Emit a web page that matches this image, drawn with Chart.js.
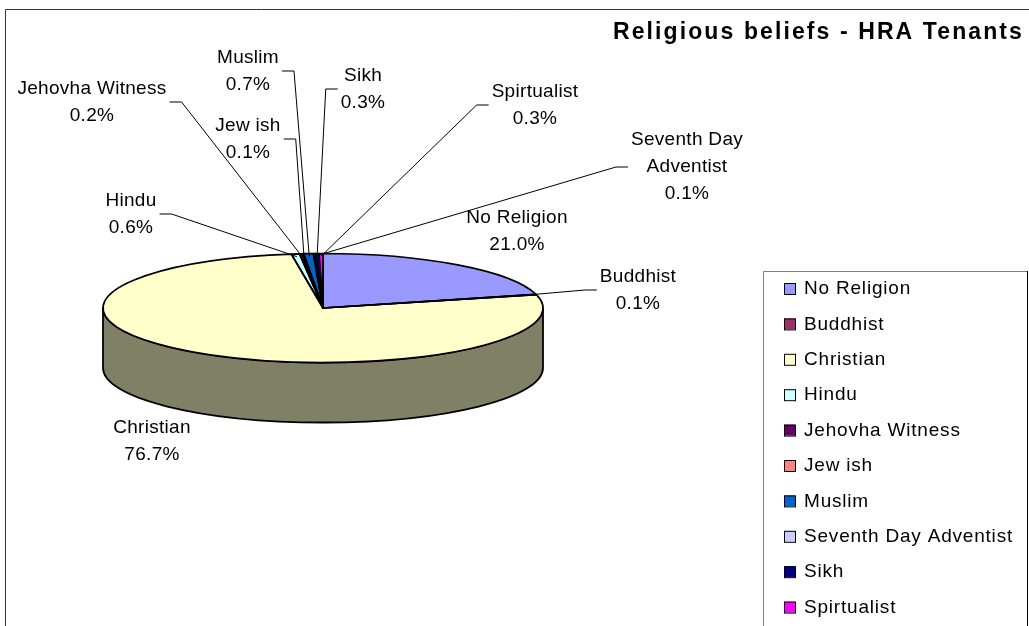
<!DOCTYPE html>
<html>
<head>
<meta charset="utf-8">
<script src="https://cdn.jsdelivr.net/npm/chart.js@4"></script>
<style>
  html, body { margin: 0; padding: 0; background: #fff; }
</style>
</head>
<body>
<canvas id="religionPie" width="1029" height="626"></canvas>
<script>
const religions = ["No Religion", "Buddhist", "Christian", "Hindu", "Jehovha Witness", "Jew ish", "Muslim", "Seventh Day Adventist", "Sikh", "Spirtualist"];
const percentages = [21.0, 0.1, 76.7, 0.6, 0.2, 0.1, 0.7, 0.1, 0.3, 0.3];
const sliceColors = ["#9999ff", "#993366", "#ffffcc", "#ccffff", "#660066", "#ff8080", "#0066cc", "#ccccff", "#000080", "#ff00ff"];

// where each data label sits (centre of the text block) and whether it gets a leader line
const labelSpots = [
  { x: 517, y: 231, leader: false },
  { x: 638, y: 290, leader: true },
  { x: 152, y: 441, leader: false },
  { x: 131, y: 214, leader: true },
  { x: 92, y: 102, leader: true },
  { x: 248, y: 139, leader: true },
  { x: 248, y: 71, leader: true },
  { x: 687, y: 167, leader: true },
  { x: 363, y: 89, leader: true },
  { x: 535, y: 105, leader: true },
];

const FONT = '"Liberation Sans", Arial, sans-serif';
const PIE = { cx: 323, cy: 308, rx: 220, ry: 54.5, depth: 60 }; // tilted pie on screen

Chart.defaults.font.family = FONT;

function tilt(ctx, arc) {
  ctx.translate(PIE.cx, PIE.cy);
  ctx.scale(PIE.rx / arc.outerRadius, PIE.ry / arc.outerRadius);
  ctx.translate(-arc.x, -arc.y);
}

function shade(hex, f) {
  const n = parseInt(hex.slice(1), 16);
  const r = Math.round(((n >> 16) & 255) * f);
  const g = Math.round(((n >> 8) & 255) * f);
  const b = Math.round((n & 255) * f);
  return `rgb(${r},${g},${b})`;
}

function splitName(name) {
  if (name.length <= 16) return [name];
  const i = name.lastIndexOf(" ");
  return [name.slice(0, i), name.slice(i + 1)];
}

const pie3d = {
  id: "pie3d",
  beforeDraw(chart) {
    const ctx = chart.ctx;
    ctx.save();
    ctx.strokeStyle = "#333";
    ctx.lineWidth = 1;
    ctx.beginPath();
    ctx.moveTo(5.5, 700);
    ctx.lineTo(5.5, 9.5);
    ctx.lineTo(1029, 9.5);
    ctx.stroke();
    ctx.restore();
  },
  // cylinder wall, drawn under the top face
  beforeDatasetsDraw(chart) {
    const ctx = chart.ctx;
    const TAU = Math.PI * 2;
    chart.getDatasetMeta(0).data.forEach((arc, i) => {
      let a = arc.startAngle, b = arc.endAngle;
      const k = Math.floor(a / TAU);
      a -= k * TAU; b -= k * TAU;
      [[0, Math.PI], [TAU, TAU + Math.PI]].forEach(([lo, hi]) => {
        const s = Math.max(a, lo), e = Math.min(b, hi);
        if (e <= s) return;
        ctx.save();
        ctx.beginPath();
        ctx.ellipse(PIE.cx, PIE.cy, PIE.rx, PIE.ry, 0, s, e);
        ctx.ellipse(PIE.cx, PIE.cy + PIE.depth, PIE.rx, PIE.ry, 0, e, s, true);
        ctx.closePath();
        ctx.fillStyle = shade(sliceColors[i], 0.5);
        ctx.fill();
        ctx.strokeStyle = "#000";
        ctx.lineWidth = 1.8;
        ctx.stroke();
        ctx.restore();
      });
    });
  },
  beforeDatasetDraw(chart) {
    const arc = chart.getDatasetMeta(0).data[0];
    chart.ctx.save();
    tilt(chart.ctx, arc);
  },
  afterDatasetDraw(chart) {
    chart.ctx.restore();
  },
  afterDatasetsDraw(chart) {
    const ctx = chart.ctx;
    chart.getDatasetMeta(0).data.forEach(arc => {
      ctx.save();
      ctx.beginPath();
      tilt(ctx, arc);
      ctx.moveTo(arc.x, arc.y);
      ctx.arc(arc.x, arc.y, arc.outerRadius, arc.startAngle, arc.endAngle);
      ctx.closePath();
      ctx.restore();
      ctx.save();
      ctx.strokeStyle = "#000";
      ctx.lineWidth = 1.7;
      ctx.lineJoin = "round";
      ctx.stroke();
      ctx.restore();
    });
  },
  afterDraw(chart) {
    const ctx = chart.ctx;
    const arcs = chart.getDatasetMeta(0).data;
    ctx.save();

    // title
    ctx.font = "bold 23px " + FONT;
    ctx.letterSpacing = "2.1px";
    ctx.fillStyle = "#000";
    ctx.textAlign = "left";
    ctx.textBaseline = "alphabetic";
    ctx.fillText("Religious beliefs - HRA Tenants", 613, 39);

    // data labels + leader lines
    ctx.font = "19px " + FONT;
    ctx.letterSpacing = "0.3px";
    ctx.textAlign = "center";
    ctx.textBaseline = "middle";
    ctx.strokeStyle = "#000";
    ctx.lineWidth = 1;
    religions.forEach((name, i) => {
      const spot = labelSpots[i];
      const lines = splitName(name).concat(percentages[i].toFixed(1) + "%");
      const lh = 27;
      const top = spot.y - (lines.length - 1) * lh / 2;
      let w = 0;
      lines.forEach((t, j) => {
        ctx.fillText(t, spot.x, top + j * lh);
        w = Math.max(w, ctx.measureText(t).width);
      });
      if (!spot.leader) return;
      const arc = arcs[i];
      const mid = (arc.startAngle + arc.endAngle) / 2;
      const ax = PIE.cx + PIE.rx * 0.95 * Math.cos(mid);
      const ay = PIE.cy + PIE.ry * 0.95 * Math.sin(mid);
      const dir = spot.x < ax ? 1 : -1;
      const x0 = spot.x + dir * (w / 2 + 3);
      ctx.beginPath();
      ctx.moveTo(x0, spot.y);
      ctx.lineTo(x0 + dir * 12, spot.y);
      ctx.lineTo(ax, ay);
      ctx.stroke();
    });

    // legend
    ctx.strokeStyle = "#808080";
    ctx.lineWidth = 1;
    ctx.beginPath();
    ctx.moveTo(763.5, 700);
    ctx.lineTo(763.5, 271.5);
    ctx.lineTo(1028, 271.5);
    ctx.stroke();
    ctx.strokeStyle = "#000";
    ctx.beginPath();
    ctx.moveTo(1027.5, 271);
    ctx.lineTo(1027.5, 700);
    ctx.stroke();
    ctx.letterSpacing = "0.8px";
    ctx.textAlign = "left";
    religions.forEach((name, i) => {
      const y = 288 + i * 35.4;
      ctx.fillStyle = sliceColors[i];
      ctx.fillRect(784, y - 5, 11, 11);
      ctx.strokeStyle = "#000";
      ctx.strokeRect(784.5, y - 4.5, 11, 11);
      ctx.fillStyle = "#000";
      ctx.fillText(name, 804, y + 1);
    });
    ctx.restore();
  },
};

new Chart(document.getElementById("religionPie"), {
  type: "pie",
  data: {
    labels: religions,
    datasets: [{
      data: percentages,
      backgroundColor: sliceColors,
      borderWidth: 0,
      hoverOffset: 0,
      clip: false,
    }],
  },
  options: {
    responsive: false,
    animation: false,
    events: [],
    layout: {
      padding: { left: 103, right: 486, top: 93, bottom: 93 },
    },
    plugins: {
      legend: { display: false },
      tooltip: { enabled: false },
    },
  },
  plugins: [pie3d],
});
</script>
</body>
</html>
